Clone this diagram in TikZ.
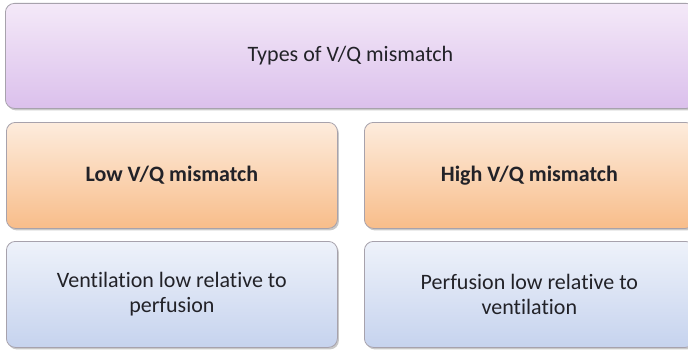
\documentclass[tikz,border=0pt]{standalone}
\usepackage{fontspec}
\setmainfont{Carlito}[Ligatures=NoCommon]
\usetikzlibrary{shadows}
\definecolor{lavtop}{HTML}{F4E9F8}
\definecolor{lavbot}{HTML}{DBC0EC}
\definecolor{ortop}{HTML}{FDECDD}
\definecolor{orbot}{HTML}{F8BD8A}
\definecolor{bltop}{HTML}{EEF2FA}
\definecolor{blbot}{HTML}{C6D3EE}
\definecolor{edge}{HTML}{A7A2AC}
\definecolor{ink}{HTML}{222228}
\tikzset{
  card/.style={draw=edge, line width=0.8pt, rounded corners=9pt,
    drop shadow={shadow xshift=1.5pt, shadow yshift=-2pt, opacity=0.35, fill=black!60},
    text=ink, align=center, inner sep=0pt,
    font=\fontsize{22}{25}\selectfont},
  lav/.style={card, top color=lavtop, bottom color=lavbot},
  orng/.style={card, top color=ortop, bottom color=orbot, font=\fontsize{22}{25}\selectfont\bfseries},
  blu/.style={card, top color=bltop, bottom color=blbot},
}
\begin{document}
\begin{tikzpicture}[x=1pt,y=1pt]
\useasboundingbox[fill=white] (0,0) rectangle (688,349);
\node[lav, minimum width=690pt, minimum height=105pt, anchor=north west] (types) at (5,346) {Types of V/Q mismatch};
\node[orng, minimum width=331pt, minimum height=106pt, anchor=north west] (low) at (6,227) {Low V/Q mismatch};
\node[orng, minimum width=330pt, minimum height=106pt, anchor=north west] (high) at (364,227) {High V/Q mismatch};
\node[blu, minimum width=331pt, minimum height=106pt, anchor=north west] (vlow) at (6,108) {Ventilation low relative to\\perfusion};
\node[blu, minimum width=330pt, minimum height=106pt, anchor=north west] (plow) at (364,108) {Perfusion low relative to\\ventilation};
\end{tikzpicture}
\end{document}
